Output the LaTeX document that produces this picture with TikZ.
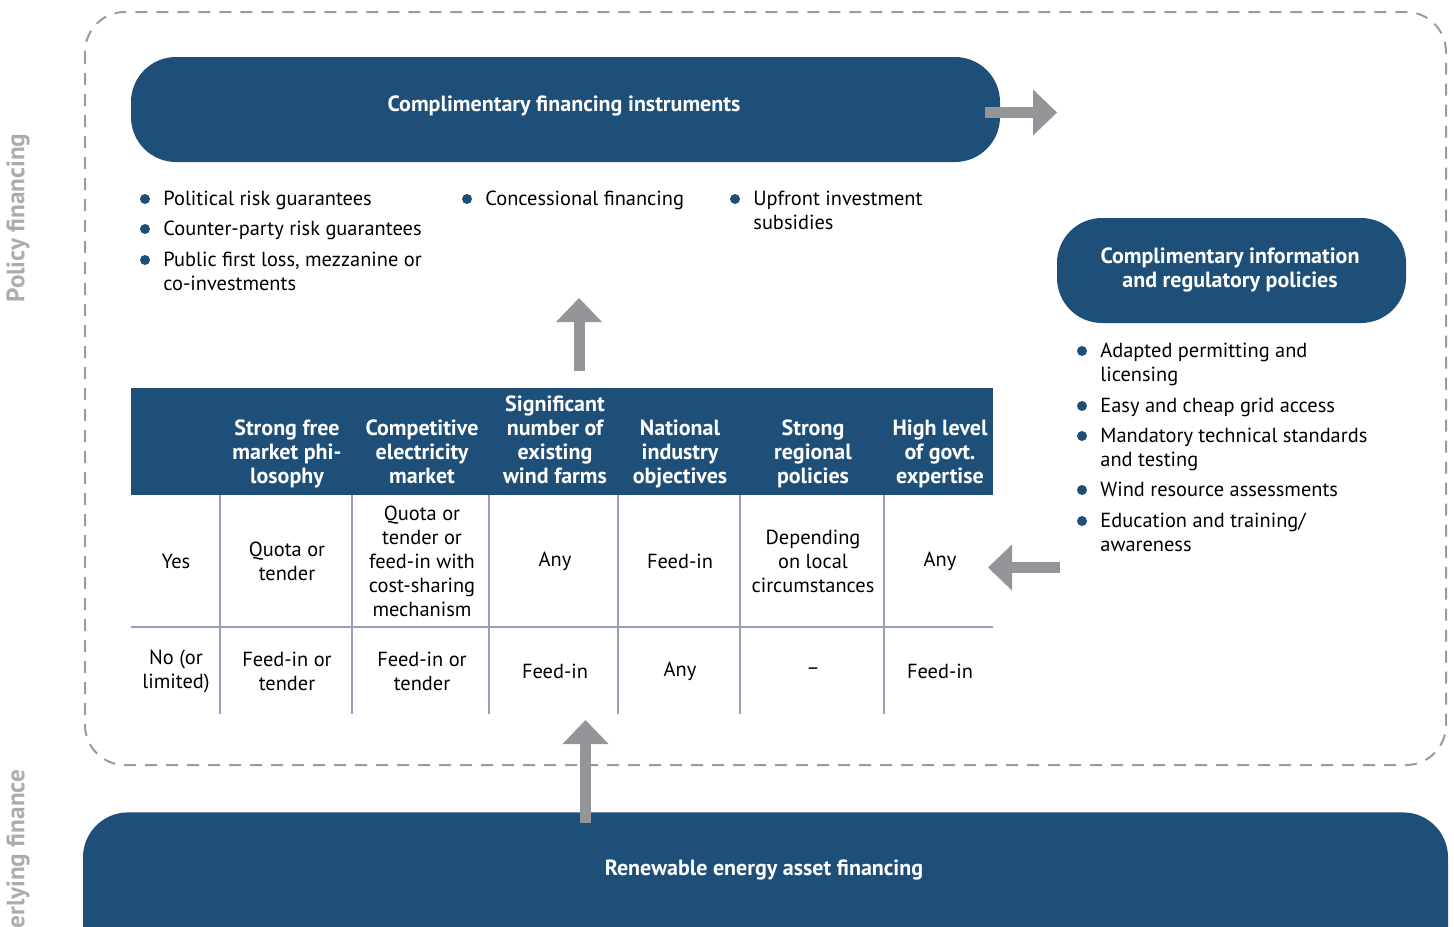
\documentclass[tikz,border=0pt]{standalone}
\usepackage{fontspec}
\setmainfont{PT Sans}
\usetikzlibrary{arrows.meta}

\definecolor{boxblue}{RGB}{30,79,121}
\definecolor{arrowgray}{RGB}{147,149,152}
\definecolor{framegray}{RGB}{155,155,155}
\definecolor{labelgray}{RGB}{170,172,175}
\definecolor{rulegray}{RGB}{150,160,185}

\newcommand\figfont{\fontsize{10.2pt}{12pt}\selectfont}
\newcommand\figbold{\fontsize{11pt}{12pt}\selectfont\bfseries}

\tikzset{
  bluebox/.style={fill=boxblue, rounded corners=22.5pt, inner sep=0pt},
  boxtext/.style={text=white, font=\figbold, align=center, inner sep=0pt},
  itemtext/.style={anchor=north west, align=left, inner sep=0pt, font=\figfont},
  headcell/.style={anchor=base, align=center, inner sep=0pt, text=white, font=\figbold},
  cell/.style={align=center, inner sep=0pt, font=\figfont},
  dot/.style={circle, fill=boxblue, inner sep=0pt, minimum size=5pt},
  bigarrow/.style={draw=arrowgray, line width=5.5pt,
    -{Triangle[width=23pt,length=12pt,line width=0pt]}},
  sidelabel/.style={rotate=90, text=labelgray, font=\fontsize{12.6pt}{14pt}\selectfont\bfseries, inner sep=0pt},
  frame/.style={draw=framegray, line width=1pt, dash pattern=on 6pt off 4.5pt, rounded corners=20pt}
}

\begin{document}
\begin{tikzpicture}[x=0.5pt, y=-0.5pt]
  \useasboundingbox (0,0) rectangle (1454,926);
  \clip (0,0) rectangle (1454,926);

  % side labels and frame
  \node[sidelabel] (policy) at (18,218) {Policy financing};
  \node[sidelabel, anchor=west] (underlying) at (18,929) {erlying finance};
  \draw[frame] (85,12) rectangle (1446,765);

  % boxes
  \node[bluebox, minimum width=434.5pt, minimum height=52.5pt] (fin) at (565.5,109.5) {};
  \node[boxtext] (fintext) at (564,106) {Complimentary financing instruments};
  \node[bluebox, minimum width=174.5pt, minimum height=52.5pt] (info) at (1231.5,270.5) {};
  \node[boxtext] (infotext) at (1230,270) {Complimentary information\\and regulatory policies};
  \node[bluebox, anchor=north, minimum width=682.5pt, minimum height=99pt] (asset) at (765.5,812) {};
  \node[boxtext] (assettext) at (764,870) {Renewable energy asset financing};

  % bullet lists
  \foreach \x/\y/\t [count=\i] in {
      163/199/{Political risk guarantees},
      163/229/{Counter-party risk guarantees},
      163/260/{Public first loss, mezzanine or\\co-investments},
      485/199/{Concessional financing},
      753/199/{Upfront investment\\subsidies},
      1100/351/{Adapted permitting and\\licensing},
      1100/406/{Easy and cheap grid access},
      1100/436/{Mandatory technical standards\\and testing},
      1100/490/{Wind resource assessments},
      1100/521/{Education and training/\\awareness}} {
    \node[dot] (dot\i) at (\x-18,\y) {};
    \node[itemtext] (item\i) at (\x,\y-8) {\t};
  }

  % table
  \fill[boxblue] (131,388) rectangle (993,495);
  \draw[rulegray, line width=1pt] (131,627) -- (993,627);
  \foreach \x in {220,352,489,618,740,884}
    \draw[rulegray, line width=1pt] (\x,495) -- (\x,714);
  \foreach \x/\t [count=\i] in {
      287/{Strong free\\market phi-\\losophy},
      422/{Competitive\\electricity\\market},
      555/{Significant\\number of\\existing\\wind farms},
      680/{National\\industry\\objectives},
      813/{Strong\\regional\\policies},
      940/{High level\\of govt.\\expertise}}
    \node[headcell] (head\i) at (\x,483) {\t};
  \foreach \x/\t [count=\i] in {
      176/{Yes}, 287/{Quota or\\tender},
      422/{Quota or\\tender or\\feed-in with\\cost-sharing\\mechanism},
      555/{Any}, 680/{Feed-in}, 813/{Depending\\on local\\circumstances}, 940/{Any}}
    \node[cell] (yes\i) at (\x,561) {\t};
  \foreach \x/\t [count=\i] in {
      176/{No (or\\limited)}, 287/{Feed-in or\\tender}, 422/{Feed-in or\\tender},
      555/{Feed-in}, 680/{Any}, 813/{\textendash}, 940/{Feed-in}}
    \node[cell] (no\i) at (\x,671) {\t};

  % arrows
  \coordinate (finout) at (985,112.5);
  \coordinate (finend) at (1057,112.5);
  \coordinate (tabletop) at (579,371);
  \coordinate (listbottom) at (579,298);
  \coordinate (infoleft) at (1060,567.5);
  \coordinate (tableright) at (988,567.5);
  \coordinate (assetup) at (585.5,823);
  \coordinate (tablebottom) at (585.5,720);
  \draw[bigarrow] (finout) -- (finend);
  \draw[bigarrow] (tabletop) -- (listbottom);
  \draw[bigarrow] (infoleft) -- (tableright);
  \draw[bigarrow] (assetup) -- (tablebottom);
\end{tikzpicture}
\end{document}
